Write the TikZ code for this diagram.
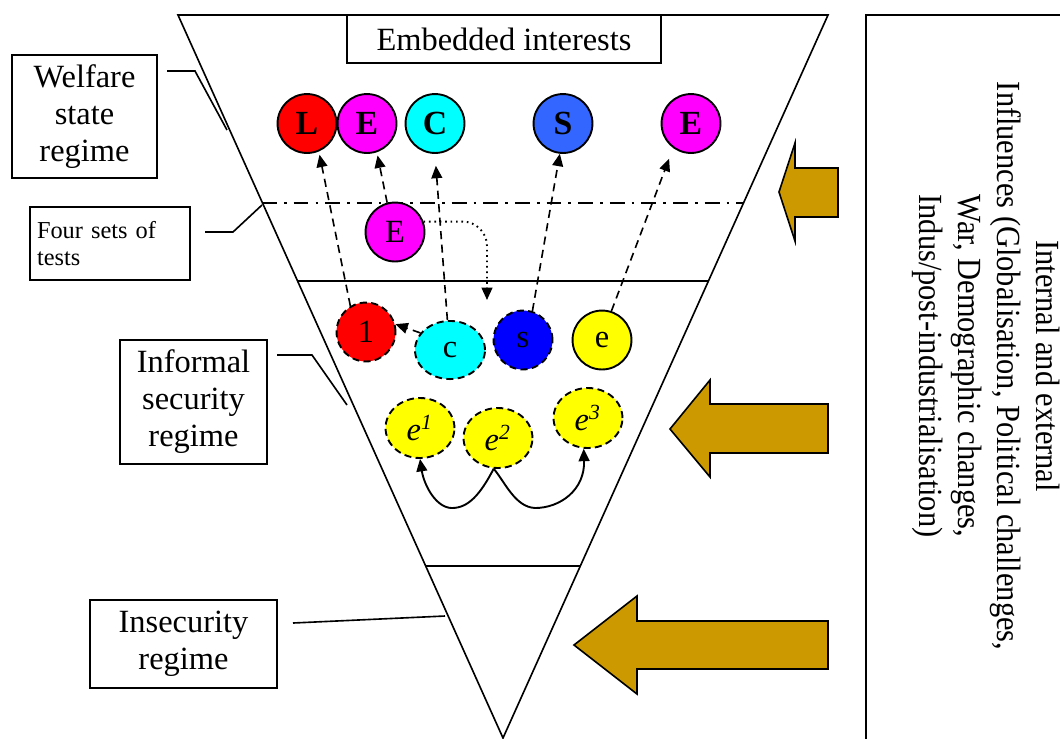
\documentclass[tikz,border=0pt]{standalone}
\usepackage{fontspec}
\setmainfont{Liberation Serif}
\newfontfamily\narrowfont[FakeStretch=0.9]{Liberation Serif}
\usetikzlibrary{arrows.meta,shapes.geometric}
\definecolor{gold}{RGB}{204,153,0}
\definecolor{sblue}{RGB}{51,102,255}
\definecolor{dblue}{RGB}{0,0,255}
\definecolor{pred}{RGB}{255,0,0}
\definecolor{pmag}{RGB}{255,0,255}
\definecolor{pcyan}{RGB}{0,255,255}
\definecolor{pyel}{RGB}{255,255,0}
\begin{document}
\begin{tikzpicture}[x=0.37pt,y=-0.37pt,
  line width=0.6pt,
  ball/.style={circle,draw,line width=0.7pt,minimum size=21.8pt,inner sep=0pt,font=\fontsize{12}{14}\selectfont},
  bigball/.style={ball,font=\fontsize{12.5}{14}\selectfont\bfseries},
  oval/.style={ellipse,draw,line width=0.7pt,dash pattern=on 2.6pt off 1.6pt,minimum width=25.5pt,minimum height=22.2pt,inner sep=0pt,font=\fontsize{12}{14}\selectfont},
  dashball/.style={ball,dash pattern=on 2.6pt off 1.6pt},
  lab/.style={draw,line width=0.7pt,align=center,font=\fontsize{12}{13.7}\selectfont,inner sep=0pt},
  tip/.style={-{Triangle[length=4.6pt,width=4pt]}},
  dl/.style={tip,line width=0.6pt,dash pattern=on 3pt off 2pt},
  barrow/.style={draw,fill=gold,line width=0.6pt,line join=miter}]

\useasboundingbox (0,0) rectangle (1060,738);
\clip (0,0) rectangle (1060,738);

% funnel
\draw (178,15) -- (828,15) -- (503,738) -- cycle;
\draw (297.6,281) -- (708.4,281);
\draw (425.7,566) -- (580.3,566);
\draw[line width=0.8pt,dash pattern=on 5.5pt off 2.6pt on 1pt off 2.6pt] (262,203) -- (744,203);

% labels
\node[lab,minimum width=116.2pt,minimum height=17.8pt] (emb) at (504,39) {Embedded interests};
\node[lab,minimum width=53.7pt,minimum height=45.5pt] (wel) at (84.5,116.5) {Welfare\\state\\regime};
\node[draw,line width=0.7pt,minimum width=59.2pt,minimum height=27pt,inner sep=0pt,text width=54pt,align=left,font=\fontsize{9}{10}\selectfont] (four) at (110,243.5) {Four sets of\\tests};
\node[lab,minimum width=54.4pt,minimum height=45.9pt] (inf) at (193.5,402) {Informal\\security\\regime};
\node[lab,minimum width=69.2pt,minimum height=32.6pt] (ins) at (183.5,644) {Insecurity\\regime};

% label connectors
\coordinate (w1) at (167,71);  \coordinate (w2) at (195,71);  \coordinate (w3) at (227,130);
\coordinate (f1) at (205,232); \coordinate (f2) at (233,232); \coordinate (f3) at (262,205);
\coordinate (i1) at (277,355); \coordinate (i2) at (312,355); \coordinate (i3) at (347,405);
\coordinate (n1) at (293,623); \coordinate (n2) at (445,616);
\draw (w1) -- (w2) -- (w3);
\draw (f1) -- (f2) -- (f3);
\draw (i1) -- (i2) -- (i3);
\draw (n1) -- (n2);

% right box
\draw[line width=0.7pt] (866,15) rectangle (1090,760);
\node[rotate=-90,align=center,font=\narrowfont\fontsize{12.5}{14.4}\selectfont] (infl) at (986,366)
  {Internal and external\\Influences (Globalisation, Political challenges,\\War, Demographic changes,\\Indus/post-industrialisation)};

% top balls
\node[bigball,fill=pred] (L) at (307,123.5) {L};
\node[bigball,fill=pmag] (E1) at (367,123.5) {E};
\node[bigball,fill=pcyan] (C) at (435,123.5) {C};
\node[bigball,fill=sblue] (S) at (563,123.5) {S};
\node[bigball,fill=pmag] (E2) at (691,123.5) {E};

% middle
\node[ball,fill=pmag] (Em) at (395,232) {E};

% lower
\node[dashball,fill=pred] (l) at (366,332) {1};
\node[oval,fill=pcyan,minimum width=25.9pt,minimum height=21.5pt] (c) at (450,350) {c};
\node[dashball,fill=dblue] (s) at (523,340) {s};
\node[ball,fill=pyel] (e) at (602,340) {e};
\node[oval,fill=pyel] (e1) at (420,428) {\textit{e\textsuperscript{1}}};
\node[oval,fill=pyel] (e2) at (498,438) {\textit{e\textsuperscript{2}}};
\node[oval,fill=pyel] (e3) at (588,418) {\textit{e\textsuperscript{3}}};

% dashed arrows
\draw[dl,shorten >=1.2pt] (l.121) -- (L.293);
\draw[dl,shorten >=1.2pt] (Em.105) -- (E1.289);
\draw[dl,shorten >=4.4pt] (c.95) -- (C.south);
\draw[dl] (s.72) -- (S.264);
\draw[dl,shorten >=4.2pt] (e.72) -- (E2.234);
\draw[dl] (c.150) -- (l.15);

% dotted arrow
\coordinate (dt) at (487,300);
\draw[tip,line width=0.7pt,dash pattern=on 0.6pt off 1.4pt,rounded corners=9pt] (Em.20) -| (dt);

% e curves
\draw[tip,line width=0.7pt] (e2.262) .. controls (480,495) and (468,508) .. (452,508)
  .. controls (436,508) and (424,485) .. (e1.south);
\draw[tip,line width=0.7pt] (e2.262) .. controls (505,482) and (515,507) .. (535,508)
  .. controls (560,508) and (585,490) .. (e3.262);

% block arrows
\draw[barrow] (779,192) -- (795,143) -- (795,168) -- (838,168) -- (838,217) -- (795,217) -- (795,241) -- cycle;
\draw[barrow] (670,429) -- (710,380) -- (710,404) -- (828,404) -- (828,453) -- (710,453) -- (710,477) -- cycle;
\draw[barrow] (574,645) -- (637,596) -- (637,621) -- (828,621) -- (828,669) -- (637,669) -- (637,694) -- cycle;
\end{tikzpicture}
\end{document}
